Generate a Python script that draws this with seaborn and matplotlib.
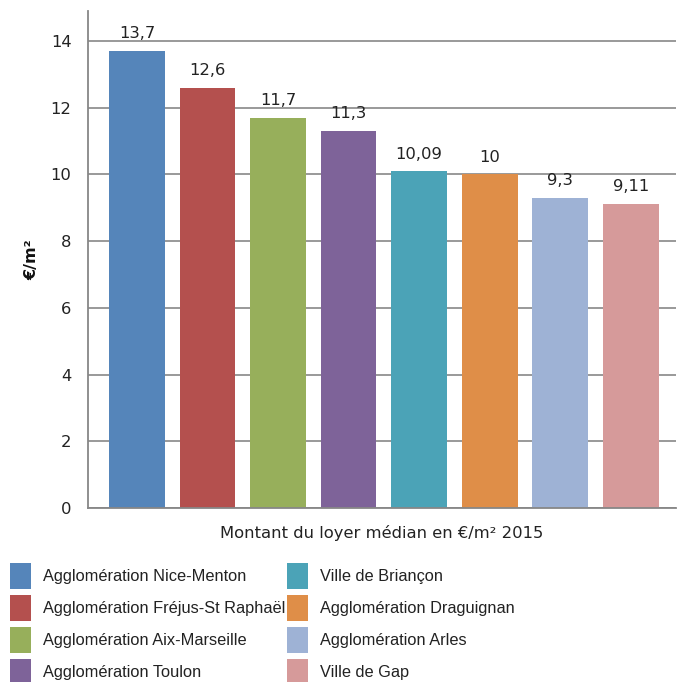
import matplotlib
matplotlib.use("Agg")
import matplotlib.pyplot as plt
from matplotlib.patches import Patch
import seaborn as sns
import pandas as pd

categories = [
    "Agglomération Nice-Menton",
    "Agglomération Fréjus-St Raphaël",
    "Agglomération Aix-Marseille",
    "Agglomération Toulon",
    "Ville de Briançon",
    "Agglomération Draguignan",
    "Agglomération Arles",
    "Ville de Gap",
]
values = [13.7, 12.6, 11.7, 11.3, 10.09, 10.0, 9.3, 9.11]
value_labels = ["13,7", "12,6", "11,7", "11,3", "10,09", "10", "9,3", "9,11"]
colors = ["#5585BA", "#B4504E", "#97AF5B", "#7E6399", "#4BA3B7",
          "#DF8E48", "#9EB2D5", "#D69A9A"]
y_ticks = [0, 2, 4, 6, 8, 10, 12, 14]

sns.set_theme(style="white")
plt.rcParams["font.family"] = ["DejaVu Sans"]

df = pd.DataFrame({"cat": categories, "val": values})

fig = plt.figure(figsize=(6.83, 6.82), dpi=100)
ax = fig.add_axes([0.129, 0.255, 0.861, 0.729])

sns.barplot(data=df, x="cat", y="val", hue="cat", palette=colors,
            order=categories, hue_order=categories, dodge=False,
            width=0.79, legend=False, saturation=1, ax=ax,
            edgecolor="none", linewidth=0)

for cont, lab in zip(ax.containers, value_labels):
    ax.bar_label(cont, labels=[lab], padding=7, fontsize=11.8, color="#222222")

ax.set_ylim(0, 14.9)
ax.set_xlim(-0.695, 7.645)
ax.set_yticks(y_ticks)
ax.set_yticklabels([str(t) for t in y_ticks], fontsize=11.8, color="#222222")
ax.set_xticks([])
ax.yaxis.grid(True, color="#878787", linewidth=1.2)
ax.set_axisbelow(True)
ax.tick_params(axis="y", length=0, pad=12)

for s in ["top", "right"]:
    ax.spines[s].set_visible(False)
for s in ["left", "bottom"]:
    ax.spines[s].set_color("#878787")
    ax.spines[s].set_linewidth(1.3)

ax.set_xlabel("Montant du loyer médian en €/m² 2015", fontsize=11.8,
              color="#222222", labelpad=12)
ax.set_ylabel("€/m²", fontsize=11.5, fontweight="bold", color="#111111",
              labelpad=8)

handles = [Patch(facecolor=c, edgecolor="none") for c in colors]
leg_kw = dict(frameon=False, handlelength=1.28, handleheight=2.06,
              handletextpad=0.72, labelspacing=0.37,
              borderaxespad=0, borderpad=0, labelcolor="#222222",
              prop={"family": "Liberation Sans", "size": 11.8})
fig.legend(handles[:4], categories[:4], loc="upper left",
           bbox_to_anchor=(0.0146, 0.1745), **leg_kw)
fig.legend(handles[4:], categories[4:], loc="upper left",
           bbox_to_anchor=(0.42, 0.1745), **leg_kw)

fig.savefig("out.png", dpi=100)
